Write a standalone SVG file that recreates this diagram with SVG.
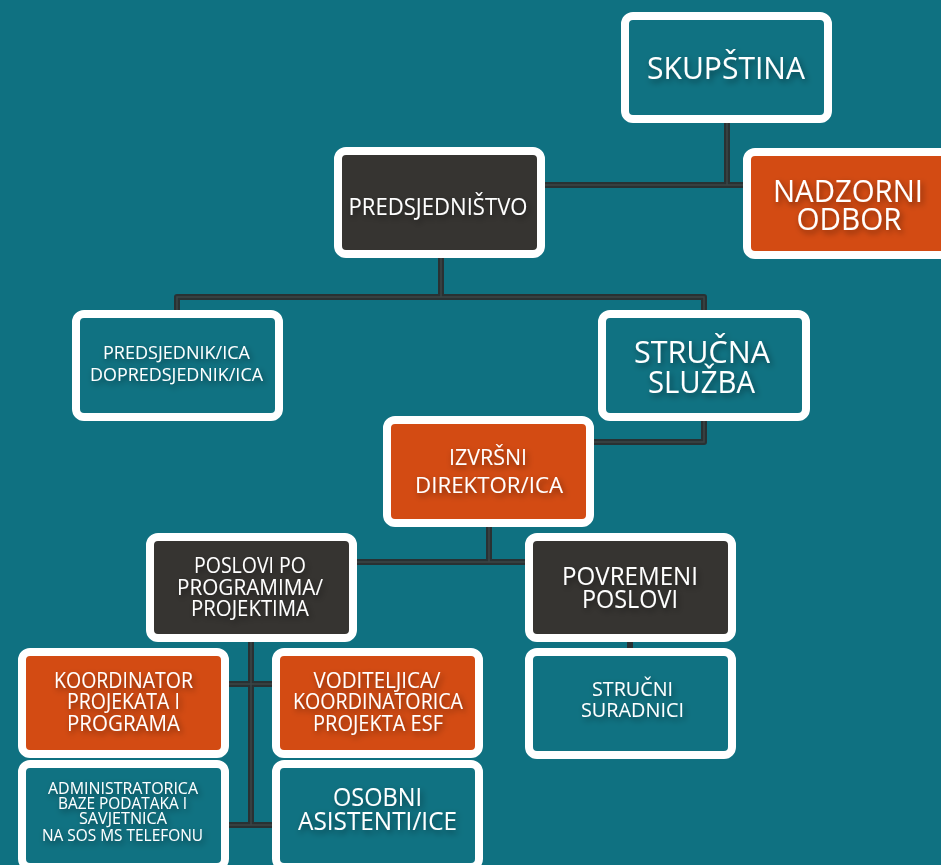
<svg xmlns="http://www.w3.org/2000/svg" width="941" height="865" viewBox="0 0 941 865">
<defs>
<style>
.bg{fill:#0f7181}
.box{stroke:#ffffff;stroke-width:8}
.teal{fill:#107282}
.dark{fill:#363431}
.orange{fill:#d34b13}
.t{font-family:"Open Sans","Liberation Sans",sans-serif;fill:#ffffff;text-anchor:middle;filter:url(#ts)}
.c1{fill:none;stroke:#293133;stroke-width:6;stroke-linejoin:round}
.c2{fill:none;stroke:#3b4547;stroke-width:1.5}
</style>
<filter id="ts" x="-20%" y="-50%" width="140%" height="220%">
<feDropShadow dx="2" dy="3" stdDeviation="3" flood-color="#000000" flood-opacity="0.45"/>
</filter>
</defs>
<rect class="bg" x="0" y="0" width="941" height="865"/>
<g id="connectors">
<g class="c1">
<path d="M727 123V185M545 185H743"/>
<path d="M441 258V297M177 310V297H704V310"/>
<path d="M704 421V442H594"/>
<path d="M489 527V562M357 562H525"/>
<path d="M251 642V825M229 684H272M229 825H272"/>
<path d="M630 642V648"/>
</g>
<g class="c2">
<path d="M727 123V185M545 185H743"/>
<path d="M441 258V297M177 310V297H704V310"/>
<path d="M704 421V442H594"/>
<path d="M489 527V562M357 562H525"/>
<path d="M251 642V825M229 684H272M229 825H272"/>
</g>
</g>
<g id="skupstina">
<rect class="box teal" x="625" y="16" width="203" height="103" rx="8"/>
<text class="t" x="726" y="79" font-size="31" textLength="158" lengthAdjust="spacingAndGlyphs">SKUPŠTINA</text>
</g>
<g id="predsjednistvo">
<rect class="box dark" x="338" y="151" width="203" height="103" rx="8"/>
<text class="t" x="438" y="215" font-size="23" textLength="179" lengthAdjust="spacingAndGlyphs">PREDSJEDNIŠTVO</text>
</g>
<g id="nadzorni-odbor">
<rect class="box orange" x="747" y="152" width="203" height="103" rx="8"/>
<text class="t" x="848" y="202" font-size="31" textLength="150" lengthAdjust="spacingAndGlyphs">NADZORNI</text>
<text class="t" x="849" y="230" font-size="31" textLength="105" lengthAdjust="spacingAndGlyphs">ODBOR</text>
</g>
<g id="predsjednik">
<rect class="box teal" x="76" y="314" width="203" height="103" rx="8"/>
<text class="t" x="176.5" y="359" font-size="17.5" textLength="147" lengthAdjust="spacingAndGlyphs">PREDSJEDNIK/ICA</text>
<text class="t" x="176.5" y="381" font-size="17.5" textLength="173" lengthAdjust="spacingAndGlyphs">DOPREDSJEDNIK/ICA</text>
</g>
<g id="strucna-sluzba">
<rect class="box teal" x="602" y="314" width="204" height="103" rx="8"/>
<text class="t" x="702" y="363" font-size="31" textLength="136" lengthAdjust="spacingAndGlyphs">STRUČNA</text>
<text class="t" x="701.5" y="393" font-size="31" textLength="107" lengthAdjust="spacingAndGlyphs">SLUŽBA</text>
</g>
<g id="izvrsni-direktor">
<rect class="box orange" x="387" y="420" width="203" height="103" rx="8"/>
<text class="t" x="488" y="465" font-size="22.5" textLength="78" lengthAdjust="spacingAndGlyphs">IZVRŠNI</text>
<text class="t" x="489" y="493" font-size="22.5" textLength="148" lengthAdjust="spacingAndGlyphs">DIREKTOR/ICA</text>
</g>
<g id="poslovi-po-programima">
<rect class="box dark" x="150" y="537" width="203" height="101" rx="8"/>
<text class="t" x="250" y="573" font-size="21" textLength="112" lengthAdjust="spacingAndGlyphs">POSLOVI PO</text>
<text class="t" x="250" y="595" font-size="21" textLength="146" lengthAdjust="spacingAndGlyphs">PROGRAMIMA/</text>
<text class="t" x="250" y="616" font-size="21" textLength="118" lengthAdjust="spacingAndGlyphs">PROJEKTIMA</text>
</g>
<g id="povremeni-poslovi">
<rect class="box dark" x="529" y="537" width="203" height="101" rx="8"/>
<text class="t" x="630" y="585" font-size="25" textLength="136" lengthAdjust="spacingAndGlyphs">POVREMENI</text>
<text class="t" x="630" y="608" font-size="25" textLength="96" lengthAdjust="spacingAndGlyphs">POSLOVI</text>
</g>
<g id="koordinator">
<rect class="box orange" x="22" y="652" width="203" height="102" rx="8"/>
<text class="t" x="123.5" y="688" font-size="21" textLength="139" lengthAdjust="spacingAndGlyphs">KOORDINATOR</text>
<text class="t" x="123.5" y="709" font-size="21" textLength="113" lengthAdjust="spacingAndGlyphs">PROJEKATA I</text>
<text class="t" x="123.5" y="731" font-size="21" textLength="113" lengthAdjust="spacingAndGlyphs">PROGRAMA</text>
</g>
<g id="voditeljica">
<rect class="box orange" x="276" y="652" width="203" height="102" rx="8"/>
<text class="t" x="377" y="688" font-size="21" textLength="127" lengthAdjust="spacingAndGlyphs">VODITELJICA/</text>
<text class="t" x="378" y="709" font-size="21" textLength="170" lengthAdjust="spacingAndGlyphs">KOORDINATORICA</text>
<text class="t" x="378" y="731" font-size="21" textLength="130" lengthAdjust="spacingAndGlyphs">PROJEKTA ESF</text>
</g>
<g id="strucni-suradnici">
<rect class="box teal" x="529" y="652" width="203" height="103" rx="8"/>
<text class="t" x="632.5" y="696" font-size="19.5" textLength="81" lengthAdjust="spacingAndGlyphs">STRUČNI</text>
<text class="t" x="632.5" y="717" font-size="19.5" textLength="103" lengthAdjust="spacingAndGlyphs">SURADNICI</text>
</g>
<g id="administratorica">
<rect class="box teal" x="22" y="764" width="203" height="103" rx="8"/>
<text class="t" x="123" y="794" font-size="16.5" textLength="150" lengthAdjust="spacingAndGlyphs">ADMINISTRATORICA</text>
<text class="t" x="122.5" y="809" font-size="16.5" textLength="129" lengthAdjust="spacingAndGlyphs">BAZE PODATAKA I</text>
<text class="t" x="123" y="824" font-size="16.5" textLength="88" lengthAdjust="spacingAndGlyphs">SAVJETNICA</text>
<text class="t" x="122.5" y="841" font-size="16.5" textLength="161" lengthAdjust="spacingAndGlyphs">NA SOS MS TELEFONU</text>
</g>
<g id="osobni-asistenti">
<rect class="box teal" x="276" y="764" width="203" height="103" rx="8"/>
<text class="t" x="377.5" y="806" font-size="25" textLength="89" lengthAdjust="spacingAndGlyphs">OSOBNI</text>
<text class="t" x="377.5" y="830" font-size="25" textLength="159" lengthAdjust="spacingAndGlyphs">ASISTENTI/ICE</text>
</g>
</svg>
